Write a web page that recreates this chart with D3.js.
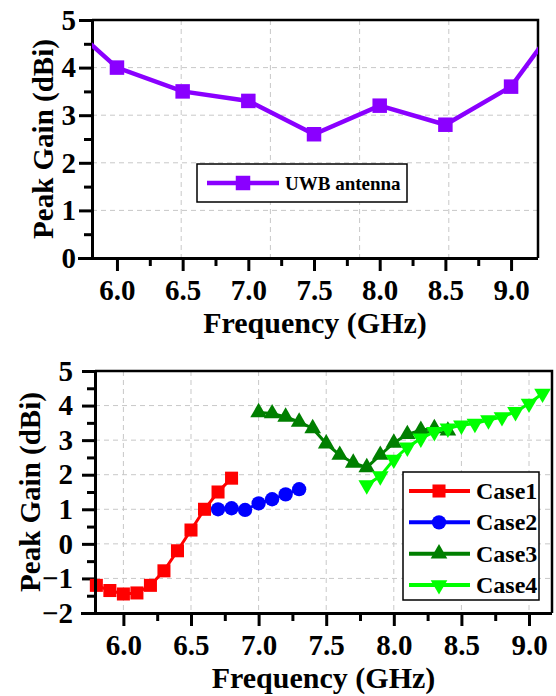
<!DOCTYPE html>
<html><head><meta charset="utf-8">
<script src="https://cdn.jsdelivr.net/npm/d3@7"></script>
<style>
body{margin:0;background:#fff}
svg text{font-family:"Liberation Serif","Times New Roman",serif;font-weight:bold;fill:#000}
</style>
</head><body>
<svg id="c" width="556" height="696"></svg>
<script>
// ---------- data: top chart ----------
const uwbFreq = [5.5, 6.0, 6.5, 7.0, 7.5, 8.0, 8.5, 9.0, 9.5];
const uwbGain = [5.24, 4.0, 3.5, 3.3, 2.6, 3.2, 2.8, 3.6, 5.48];
const topXTicks = [6.0, 6.5, 7.0, 7.5, 8.0, 8.5, 9.0];
const topYTicks = [0, 1, 2, 3, 4, 5];

// ---------- data: bottom chart ----------
const case1Freq = [5.8, 5.9, 6.0, 6.1, 6.2, 6.3, 6.4, 6.5, 6.6, 6.7, 6.8];
const case1Gain = [-1.2, -1.35, -1.45, -1.42, -1.2, -0.78, -0.2, 0.4, 1.0, 1.5, 1.9];
const case2Freq = [6.7, 6.8, 6.9, 7.0, 7.1, 7.2, 7.3];
const case2Gain = [1.0, 1.03, 0.98, 1.17, 1.29, 1.43, 1.58];
const case3Freq = [7.0, 7.1, 7.2, 7.3, 7.4, 7.5, 7.6, 7.7, 7.8, 7.9, 8.0, 8.1, 8.2, 8.3, 8.4];
const case3Gain = [3.8, 3.77, 3.67, 3.53, 3.34, 2.9, 2.57, 2.34, 2.21, 2.57, 2.92, 3.17, 3.29, 3.34, 3.27];
const case4Freq = [7.8, 7.9, 8.0, 8.1, 8.2, 8.3, 8.4, 8.5, 8.6, 8.7, 8.8, 8.9, 9.0, 9.1];
const case4Gain = [1.7, 1.96, 2.44, 2.79, 3.05, 3.24, 3.34, 3.43, 3.48, 3.58, 3.67, 3.82, 4.06, 4.35];
const botXTicks = [6.0, 6.5, 7.0, 7.5, 8.0, 8.5, 9.0];
const botYTicks = [-2, -1, 0, 1, 2, 3, 4, 5];
const caseNames = ["Case1", "Case2", "Case3", "Case4"];

const FONT = '"Liberation Serif","Times New Roman",serif';
const svg = d3.select("#c");

function panel(o) {
  const g = svg.append("g");
  const x = d3.scaleLinear().domain(o.xDomain).range([o.left, o.right]);
  const y = d3.scaleLinear().domain(o.yDomain).range([o.bottom, o.top]);
  const clipId = "clip" + o.id;
  svg.append("clipPath").attr("id", clipId).append("rect")
    .attr("x", o.left).attr("y", o.top).attr("width", o.right - o.left).attr("height", o.bottom - o.top);

  // grid
  const grid = g.append("g").attr("stroke", "#c8c8c8").attr("stroke-width", 1).attr("stroke-dasharray", "5,4");
  grid.selectAll(".gx").data(o.gridX).join("line")
    .attr("x1", d => x(d)).attr("x2", d => x(d)).attr("y1", o.top).attr("y2", o.bottom);
  grid.selectAll(".gy").data(o.gridY).join("line")
    .attr("y1", d => y(d)).attr("y2", d => y(d)).attr("x1", o.left).attr("x2", o.right);

  // minor ticks
  const minorX = g.append("g").attr("transform", `translate(0,${o.bottom})`)
    .call(d3.axisBottom(x).tickValues(o.xMinor).tickSize(8).tickFormat(""));
  const minorY = g.append("g").attr("transform", `translate(${o.left},0)`)
    .call(d3.axisLeft(y).tickValues(o.yMinor).tickSize(8).tickFormat(""));
  [minorX, minorY].forEach(a => { a.select(".domain").remove(); a.selectAll("line").attr("stroke-width", 3); });

  // major axes
  const ax = g.append("g").attr("transform", `translate(0,${o.bottom})`)
    .call(d3.axisBottom(x).tickValues(o.xTicks).tickSize(13).tickSizeOuter(0).tickPadding(o.xPad).tickFormat(d3.format(".1f")));
  const ay = g.append("g").attr("transform", `translate(${o.left},0)`)
    .call(d3.axisLeft(y).tickValues(o.yTicks).tickSize(13).tickSizeOuter(0).tickPadding(o.yPad).tickFormat(d3.format("d")));
  [ax, ay].forEach(a => {
    a.attr("font-family", null);
    a.select(".domain").attr("stroke-width", 3);
    a.selectAll(".tick line").attr("stroke-width", 3);
    a.selectAll("text").style("font-family", FONT).style("font-weight", "bold").attr("font-size", 29);
  });
  ax.select(".domain").attr("d", `M${o.left - 14},0.5H${o.right}`);
  ay.select(".domain").attr("d", `M0.5,${o.bottom}V${o.top}`);
  // top & right frame
  g.append("path").attr("d", `M${o.left},${o.top}H${o.right}V${o.bottom}`)
    .attr("fill", "none").attr("stroke", "#000").attr("stroke-width", 2.5);

  // titles
  svg.append("text").attr("x", (o.left + o.right) / 2).attr("y", o.xTitleY)
    .attr("text-anchor", "middle").attr("font-size", 30).style("font-family", FONT).text("Frequency (GHz)");
  svg.append("text").attr("transform", `translate(${o.yTitleX},${(o.top + o.bottom) / 2}) rotate(-90)`)
    .attr("text-anchor", "middle").attr("font-size", 29).style("font-family", FONT).text("Peak Gain (dBi)");

  const plot = svg.append("g").attr("clip-path", o.clip ? `url(#${clipId})` : null);
  return {x, y, plot};
}

// ---------- top chart ----------
const T = {id: "t", left: 92, right: 538, top: 20, bottom: 258, xDomain: [5.81, 9.205], yDomain: [0, 5],
  xTicks: topXTicks, yTicks: topYTicks, xMinor: [6.25, 6.75, 7.25, 7.75, 8.25, 8.75],
  yMinor: [0.5, 1.5, 2.5, 3.5, 4.5], xTitleY: 333, yTitleX: 53, clip: true, xPad: 8, yPad: 3};
T.gridX = d3.range(1, 5).map(i => T.xDomain[0] + i * (T.xDomain[1] - T.xDomain[0]) / 5);
T.gridY = [1, 2, 3, 4];
const tp = panel(T);
const uwb = uwbFreq.map((f, i) => [f, uwbGain[i]]);
const purple = "#8a00ff";
tp.plot.append("path").datum(uwb)
  .attr("d", d3.line().x(d => tp.x(d[0])).y(d => tp.y(d[1])))
  .attr("fill", "none").attr("stroke", purple).attr("stroke-width", 4.5);
tp.plot.selectAll(".m").data(uwb).join("path")
  .attr("transform", d => `translate(${tp.x(d[0])},${tp.y(d[1])})`)
  .attr("d", d3.symbol(d3.symbolSquare, 210)).attr("fill", purple);
// legend top
const lt = svg.append("g");
lt.append("rect").attr("x", 197).attr("y", 164).attr("width", 210).attr("height", 38)
  .attr("fill", "#fff").attr("stroke", "#000").attr("stroke-width", 1.5);
lt.append("line").attr("x1", 207).attr("x2", 279).attr("y1", 183).attr("y2", 183)
  .attr("stroke", purple).attr("stroke-width", 4.5);
lt.append("path").attr("transform", "translate(243,183)").attr("d", d3.symbol(d3.symbolSquare, 210)).attr("fill", purple);
lt.append("text").attr("x", 285).attr("y", 190).attr("font-size", 19).style("font-family", FONT).text("UWB antenna");

// ---------- bottom chart ----------
const B = {id: "b", left: 95, right: 552, top: 371, bottom: 613, xDomain: [5.79, 9.17], yDomain: [-2, 5],
  xTicks: botXTicks, yTicks: botYTicks, xMinor: [6.25, 6.75, 7.25, 7.75, 8.25, 8.75],
  yMinor: [-1.5, -0.5, 0.5, 1.5, 2.5, 3.5, 4.5], xTitleY: 688, yTitleX: 40, clip: false, xPad: 8, yPad: 9};
B.gridX = botXTicks;
B.gridY = [-1, 0, 1, 2, 3, 4];
const bp = panel(B);
const series = [
  {name: caseNames[0], f: case1Freq, g: case1Gain, color: "#ff0000", sym: d3.symbolSquare, size: 170, rot: 0},
  {name: caseNames[1], f: case2Freq, g: case2Gain, color: "#0000ff", sym: d3.symbolCircle, size: 160, rot: 0},
  {name: caseNames[2], f: case3Freq, g: case3Gain, color: "#007f00", sym: d3.symbolTriangle, size: 120, rot: 0},
  {name: caseNames[3], f: case4Freq, g: case4Gain, color: "#00ff00", sym: d3.symbolTriangle, size: 120, rot: 180}
];
series.forEach(s => {
  const pts = s.f.map((f, i) => [f, s.g[i]]);
  bp.plot.append("path").datum(pts)
    .attr("d", d3.line().x(d => bp.x(d[0])).y(d => bp.y(d[1])))
    .attr("fill", "none").attr("stroke", s.color).attr("stroke-width", 3);
  bp.plot.selectAll(null).data(pts).join("path")
    .attr("transform", d => `translate(${bp.x(d[0])},${bp.y(d[1])}) rotate(${s.rot})`)
    .attr("d", d3.symbol(s.sym, s.size)).attr("fill", s.color);
});
// redraw left axis line on top of markers
svg.append("line").attr("x1", 95.5).attr("x2", 95.5).attr("y1", 371).attr("y2", 613)
  .attr("stroke", "#000").attr("stroke-width", 3);
// legend bottom
const lb = svg.append("g");
lb.append("rect").attr("x", 403).attr("y", 472).attr("width", 136).attr("height", 128)
  .attr("fill", "#fff").attr("stroke", "#000").attr("stroke-width", 1.5);
const legY = d3.scalePoint().domain(caseNames).range([491, 585]);
series.forEach(s => {
  const yy = legY(s.name);
  lb.append("line").attr("x1", 409).attr("x2", 470).attr("y1", yy).attr("y2", yy)
    .attr("stroke", s.color).attr("stroke-width", 4);
  lb.append("path").attr("transform", `translate(439,${yy}) rotate(${s.rot})`)
    .attr("d", d3.symbol(s.sym, s.size)).attr("fill", s.color);
  lb.append("text").attr("x", 476).attr("y", yy + 8).attr("font-size", 24).style("font-family", FONT).text(s.name);
});
</script>
</body></html>
